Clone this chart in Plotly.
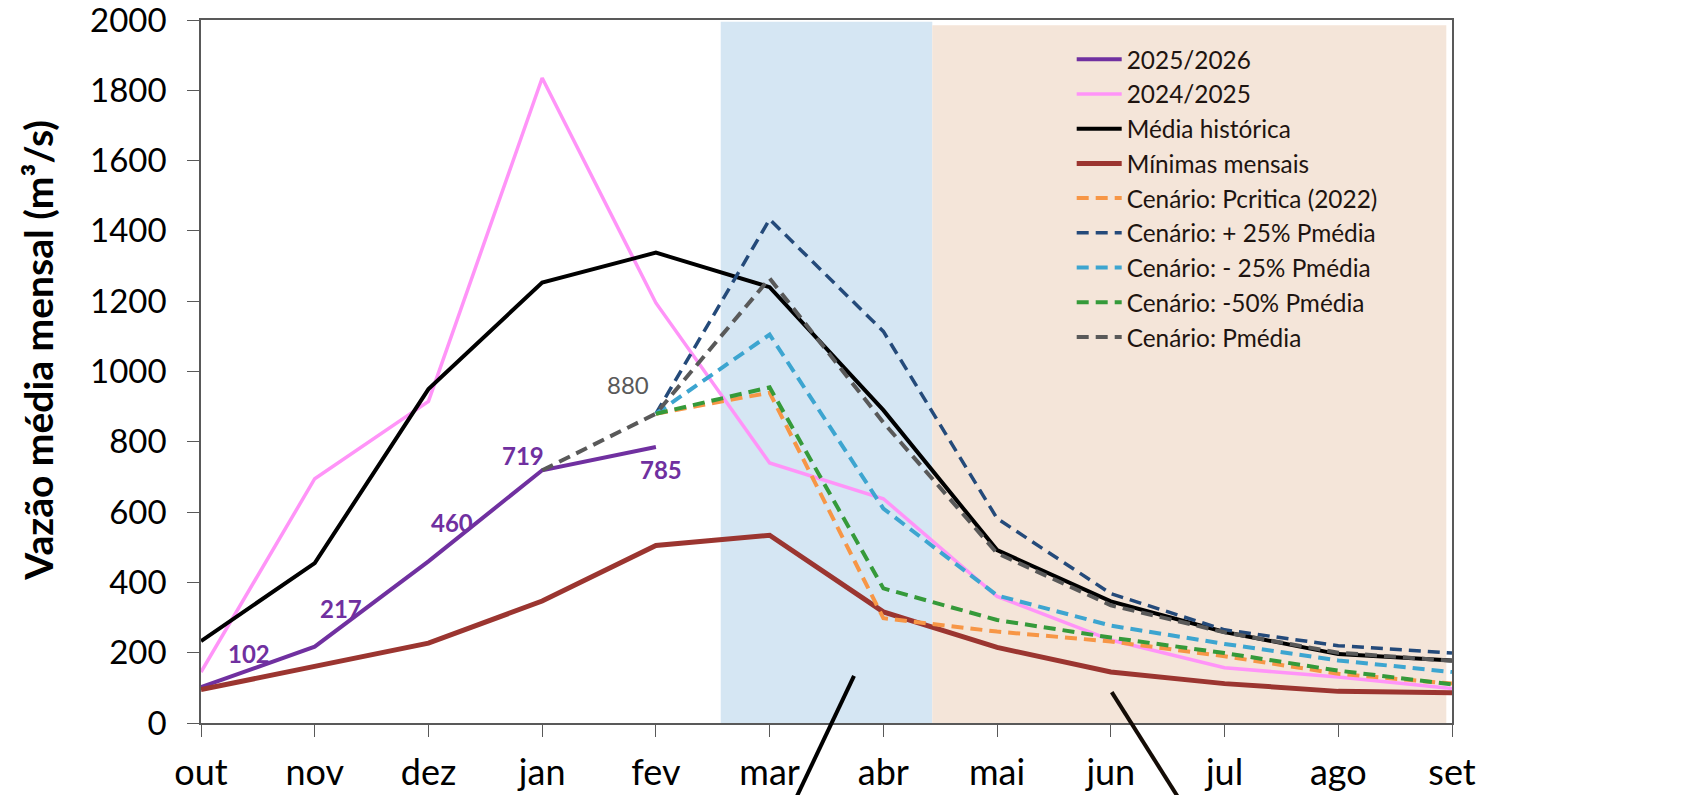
import plotly.graph_objects as go

# meses do ano hidrologico
meses = ['out', 'nov', 'dez', 'jan', 'fev', 'mar', 'abr', 'mai', 'jun', 'jul', 'ago', 'set']
x = list(range(len(meses)))
y_ticks = [0, 200, 400, 600, 800, 1000, 1200, 1400, 1600, 1800, 2000]

# series observadas (m3/s)
ano_2025_2026 = [102, 217, 460, 719, 785, None, None, None, None, None, None, None]
ano_2024_2025 = [145, 695, 915, 1835, 1195, 740, 638, 360, 236, 157, 131, 98]
media_historica = [233, 455, 950, 1253, 1338, 1240, 890, 492, 346, 259, 196, 178]
minimas_mensais = [95, 161, 227, 347, 505, 534, 316, 215, 145, 112, 90, 86]

# cenarios
cen_pcritica = [None, None, None, None, 880, 940, 298, 260, 232, 190, 140, 112]
cen_mais25 = [None, None, None, None, 880, 1433, 1114, 582, 368, 265, 220, 199]
cen_menos25 = [None, None, None, None, 880, 1105, 610, 363, 277, 225, 178, 145]
cen_menos50 = [None, None, None, None, 880, 955, 383, 293, 243, 199, 149, 110]
cen_pmedia = [None, None, None, 719, 880, 1265, 855, 483, 335, 258, 200, 177]

fig = go.Figure()

def linha(y, nome, cor, w, dash=None):
    fig.add_trace(go.Scatter(x=x, y=y, mode='lines', name=nome,
                             line=dict(color=cor, width=w, dash=dash)))

linha(ano_2025_2026, '2025/2026', '#7030A0', 4)
linha(ano_2024_2025, '2024/2025', '#FF94F8', 3.5)
linha(media_historica, 'Média histórica', '#000000', 4)
linha(minimas_mensais, 'Mínimas mensais', '#9B3530', 5)
linha(cen_pcritica, 'Cenário: Pcritica (2022)', '#F79646', 4, '12px,7px')
linha(cen_mais25, 'Cenário: + 25% Pmédia', '#244A7A', 3.5, '12px,7px')
linha(cen_menos25, 'Cenário: - 25% Pmédia', '#3DA5D0', 4, '12px,7px')
linha(cen_menos50, 'Cenário: -50% Pmédia', '#359A3A', 4, '12px,7px')
linha(cen_pmedia, 'Cenário: Pmédia', '#595959', 4, '12px,7px')

# faixas sombreadas
fig.add_shape(type='rect', xref='x', yref='y', x0=4.57, x1=6.43, y0=0, y1=1995,
              fillcolor='#D5E6F3', line_width=0, layer='below')
fig.add_shape(type='rect', xref='x', yref='y', x0=6.43, x1=10.95, y0=0, y1=1985,
              fillcolor='#F4E5D9', line_width=0, layer='below')

# linhas de chamada (caixas de texto fora da area)
fig.add_shape(type='line', xref='paper', yref='paper', x0=0.522, y0=0.067, x1=0.4748, y1=-0.11,
              line=dict(color='black', width=4))
fig.add_shape(type='line', xref='paper', yref='paper', x0=0.728, y0=0.044, x1=0.7826, y1=-0.11,
              line=dict(color='#140C06', width=4))

# rotulos de dados
rotulos = [(0, 102, '102', 48, 34), (1, 217, '217', 26, 38), (2, 460, '460', 24, 39),
           (3, 719, '719', -19, 15), (4, 785, '785', 5, -22)]
for xi, yi, txt, dx, dy in rotulos:
    fig.add_annotation(x=xi, y=yi, text='<b>' + txt + '</b>', showarrow=False,
                       xshift=dx, yshift=dy, font=dict(family='Lato', size=24, color='#7030A0'))
fig.add_annotation(x=4, y=880, text='880', showarrow=False, xshift=-28, yshift=29,
                   font=dict(family='Lato', size=24, color='#595959'))

# titulo do eixo y
fig.add_annotation(xref='paper', yref='paper', x=-0.1303, y=0.531, textangle=-90,
                   text='<b>Vazão média mensal (m³/s)</b>', showarrow=False,
                   xanchor='center', yanchor='middle', font=dict(family='Lato', size=39))

fig.update_layout(
    width=1688, height=795,
    margin=dict(l=201, r=236, t=20, b=72),
    plot_bgcolor='white', paper_bgcolor='white',
    font=dict(family='Lato', color='black'),
    showlegend=True,
    legend=dict(x=0.696, y=0.976, xanchor='left', yanchor='top',
                bgcolor='rgba(0,0,0,0)', font=dict(family='Lato', size=24.4, color='#1E1410'),
                itemwidth=45, tracegroupgap=0),
)
fig.update_xaxes(range=[0, 11], tickvals=x, ticktext=meses, showgrid=False, zeroline=False,
                 showline=True, linecolor='#595959', linewidth=1.5, mirror=True,
                 ticks='outside', ticklen=12, tickcolor='#595959', automargin=False,
                 tickfont=dict(family='Lato', size=36), ticklabelstandoff=5,
                 ticklabeloverflow='allow')
fig.update_yaxes(range=[0, 2000], tickvals=y_ticks, showgrid=False, zeroline=False,
                 showline=True, linecolor='#595959', linewidth=1.5, mirror=True,
                 ticks='outside', ticklen=12, tickcolor='#595959', automargin=False,
                 tickfont=dict(family='Lato', size=33), ticklabelstandoff=14,
                 ticklabeloverflow='allow')

fig.write_html("out.html", config={'displayModeBar': False},
               post_script="document.body.style.margin='0px';")
